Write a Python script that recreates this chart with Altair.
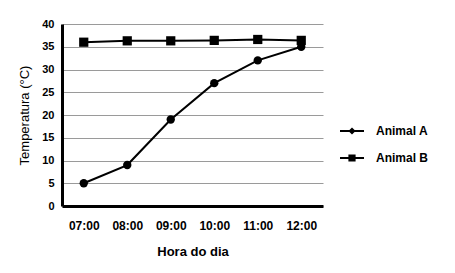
import altair as alt
import pandas as pd

hours = ["07:00", "08:00", "09:00", "10:00", "11:00", "12:00"]
animal_a = [5, 9, 19, 27, 32, 35]
animal_b = [36, 36.3, 36.3, 36.4, 36.6, 36.4]
series = ["Animal A", "Animal B"]

rows = []
for h, a, b in zip(hours, animal_a, animal_b):
    rows.append({"hora": h, "temp": a, "serie": series[0]})
    rows.append({"hora": h, "temp": b, "serie": series[1]})
df = pd.DataFrame(rows)

FONT = "Liberation Sans"

x = alt.X("hora:O", sort=hours, scale=alt.Scale(type="point", padding=0.5),
          axis=alt.Axis(title="Hora do dia", labelAngle=0, ticks=False,
                        labelPadding=14, titlePadding=14, domainWidth=3,
                        domainColor="black", labelFontWeight="bold",
                        labelFontSize=12, titleFontSize=13, titleFontWeight="bold",
                        labelColor="black", titleColor="black", labelFont=FONT, titleFont=FONT))
y = alt.Y("temp:Q", scale=alt.Scale(domain=[0, 40], nice=False),
          axis=alt.Axis(title="Temperatura (°C)", values=list(range(0, 41, 5)), ticks=False,
                        labelPadding=8, titlePadding=10, domainWidth=3, domainColor="black",
                        grid=True, gridColor="#9a9a9a", gridWidth=1,
                        labelFontWeight="bold", labelFontSize=11, titleFontSize=13,
                        titleFontWeight="normal", labelColor="black", titleColor="black",
                        labelFont=FONT, titleFont=FONT))

base = alt.Chart(df)
lines = base.mark_line(color="black", strokeWidth=2).encode(x=x, y=y, detail="serie:N")
points = base.mark_point(filled=True, color="black", opacity=1).encode(
    x=x, y=y,
    shape=alt.Shape("serie:N", scale=alt.Scale(domain=series, range=["circle", "square"]), legend=None),
    size=alt.Size("serie:N", scale=alt.Scale(domain=series, range=[70, 85]), legend=None),
)

pathA = "M-1,-0.08H1V0.08H-1Z M-0.3,0L0,-0.3L0.3,0L0,0.3Z"
pathB = "M-1,-0.08H1V0.08H-1Z M-0.3,-0.3H0.3V0.3H-0.3Z"
legend_layer = base.transform_filter("false").mark_point(filled=True, color="black").encode(
    x=x, y=y,
    shape=alt.Shape("serie:N", scale=alt.Scale(domain=series, range=[pathA, pathB]),
                    legend=alt.Legend(title=None, orient="none", legendX=278, legendY=95,
                                      symbolSize=576, symbolFillColor="black",
                                      symbolStrokeColor="black", symbolStrokeWidth=0,
                                      symbolOpacity=1,
                                      labelFont=FONT, labelFontSize=12, labelFontWeight="bold",
                                      labelColor="black", rowPadding=9, labelOffset=12)),
)

chart = alt.layer(lines, points, legend_layer).resolve_scale(shape="independent").properties(
    width=261, height=182,
    autosize="none",
    padding={"left": 62, "top": 24, "right": 132, "bottom": 67},
    background="white",
).configure_view(stroke=None)

chart.save("out.html", embed_options={"renderer": "svg", "actions": False})
